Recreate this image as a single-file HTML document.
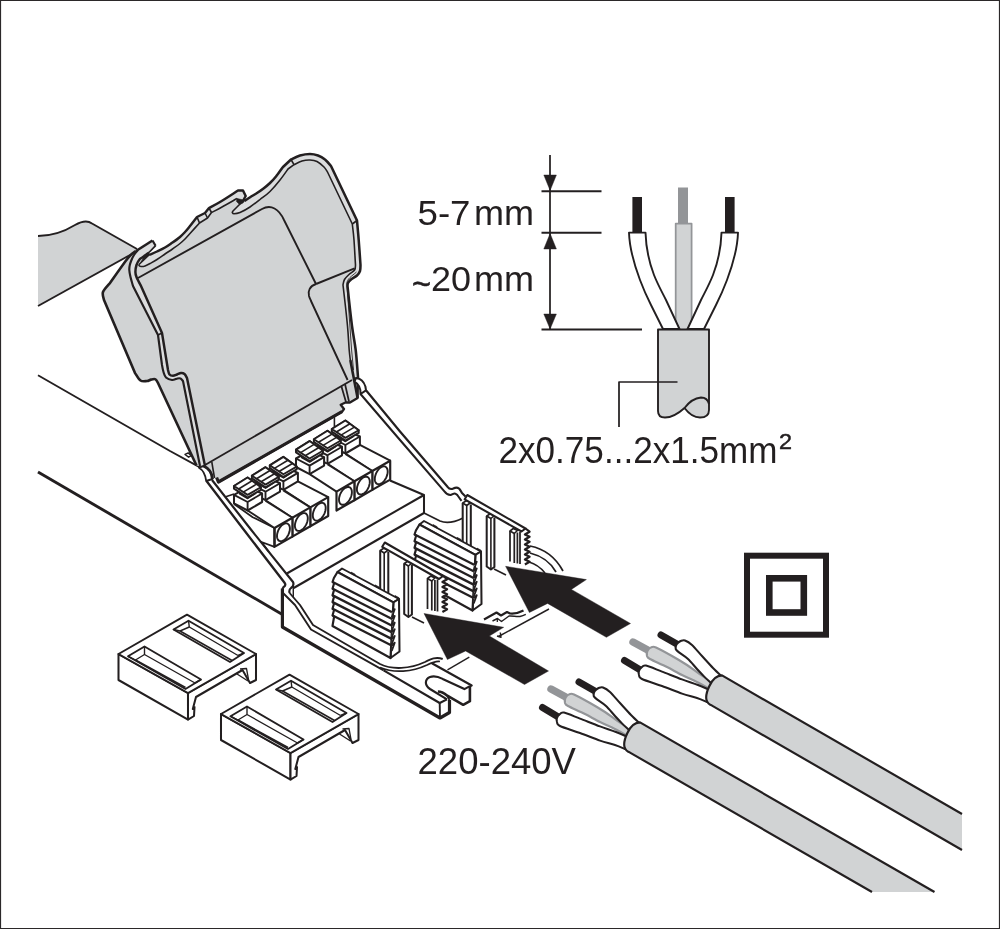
<!DOCTYPE html>
<html lang="en"><head><meta charset="utf-8"><title>Wiring instruction</title>
<style>
html,body{margin:0;padding:0;background:#fff;}
body{width:1000px;height:929px;overflow:hidden;font-family:"Liberation Sans",sans-serif;}
svg{display:block;will-change:transform;}
text{font-family:"Liberation Sans",sans-serif;fill:#231f20;}
</style></head><body>
<svg width="1000" height="929" viewBox="0 0 1000 929" stroke-linejoin="round" stroke-linecap="butt">
<rect x="0" y="0" width="1000" height="929" fill="#fff"/>
<path d="M38 236 C50 236 62 233 75 225 C82 221 88 220.5 92 223.5 L137 249 L131 254.5 L38 306 Z" fill="#d1d3d4" stroke="none" stroke-width="0" />
<path d="M38 236 C50 236 62 233 75 225 C82 221 88 220.5 92 223.5 L137 249" fill="none" stroke="#231f20" stroke-width="1.89" />
<path d="M38 306 L131 254.5" fill="none" stroke="#231f20" stroke-width="1.89" />
<path d="M38 375.3 L170 451 L200 467.3" fill="none" stroke="#231f20" stroke-width="1.89" />
<line x1="38.0" y1="472.0" x2="282.4" y2="614.5" stroke="#231f20" stroke-width="2.9"/>
<path d="M196.5 465.5 L158.0 383.0 L158.0 383.0 C157.6 382.4 156.7 379.9 155.5 379.3 C154.3 378.7 152.4 379.3 151.0 379.6 C149.6 379.9 148.8 380.9 147.0 381.0 C145.2 381.1 142.5 381.8 140.5 380.5 C138.5 379.2 135.9 374.2 135.0 373.0 L135.0 373.0 L104.0 300.0 L104.0 300.0 C103.8 298.7 102.0 294.8 103.0 292.0 C104.0 289.2 108.8 284.5 110.0 283.0 L110.0 283.0 C113.0 278.8 123.7 263.3 128.0 258.0 C132.3 252.7 134.7 252.2 136.0 251.0 L136.0 251.0 L152.5 240.5 L152.5 240.5 L155.6 245.7 L155.6 245.7 L149.0 252.5 L149.0 252.5 L149.0 255.0 L149.0 255.0 C150.3 254.4 154.3 252.8 157.0 251.5 C159.7 250.2 162.4 249.0 165.0 247.5 C167.6 246.0 170.0 244.2 172.5 242.5 C175.0 240.8 177.9 238.8 180.0 237.0 C182.1 235.2 183.3 233.8 185.0 232.0 C186.7 230.2 188.0 228.5 190.0 226.0 C192.0 223.5 195.8 218.5 197.0 217.0 L197.0 217.0 L205.0 213.0 L205.0 213.0 L209.0 208.0 L209.0 208.0 C210.8 207.0 215.2 204.9 220.0 202.0 C224.8 199.1 235.0 192.4 238.0 190.5 L238.0 190.5 L243.0 190.5 L243.0 190.5 L245.7 196.0 L245.7 196.0 L243.5 200.0 L243.5 200.0 L244.5 201.0 L244.5 201.0 C245.5 200.3 248.4 198.3 250.5 197.0 C252.6 195.7 254.8 194.4 257.0 193.0 C259.2 191.6 261.3 190.2 263.5 188.5 C265.7 186.8 267.9 185.0 270.0 183.0 C272.1 181.0 273.8 179.2 276.0 176.5 C278.2 173.8 281.8 168.6 283.0 167.0 L283.0 167.0 L291.0 159.5 L291.0 159.5 C292.5 158.8 296.8 156.4 300.0 155.5 C303.2 154.6 307.0 154.0 310.0 154.0 C313.0 154.0 315.5 154.6 318.0 155.5 C320.5 156.4 322.8 157.8 325.0 159.6 C327.2 161.3 330.0 164.9 331.0 166.0 L331.0 166.0 L357.0 220.5 L357.0 220.5 C357.3 223.8 358.1 232.6 358.7 240.0 C359.3 247.4 360.2 260.8 360.5 265.0 L360.5 265.0 C360.4 266.0 360.6 269.2 360.0 271.0 C359.4 272.8 358.5 274.1 357.0 275.5 C355.5 276.9 352.5 278.2 351.0 279.5 C349.5 280.8 348.6 281.9 348.0 283.0 C347.4 284.1 347.6 285.5 347.5 286.0 L347.5 286.0 C348.2 292.7 350.6 315.3 352.0 326.0 C353.4 336.7 354.7 341.5 355.7 350.0 C356.7 358.5 357.6 372.5 358.0 377.0 L358.0 377.0 L357.6 398.0 L357.6 398.0 L350.0 402.5 L350.0 402.5 L346.0 402.3 L346.0 402.3 L340.7 404.8 L340.7 404.8 L344.0 409.0 L344.0 409.0 L342.0 411.7 L342.0 411.7 L218.5 482.0 L218.5 482.0 L216.6 477.5 L216.6 477.5 L212.4 479.0 L212.4 479.0 C211.8 477.7 210.5 473.2 209.0 471.0 C207.5 468.8 204.5 466.8 203.6 466.0 L203.6 466.0 L199.0 466.0 L199.0 466.0 L196.5 465.5 Z" fill="#d1d3d4" stroke="none" stroke-width="0" />
<path d="M152.5 240.5 L138.0 250.0 L134.0 255.0 L131.5 260.0 L129.8 265.0 L129.3 270.0 L130.5 277.0 L133.0 286.0 L158.0 335.0 L162.0 365.0 L163.5 372.0 L166.0 377.5 L172.0 380.0 L177.5 378.5 L180.5 378.5 L183.0 381.0 L200.0 466.0 L205.0 466.0 L187.0 378.0 L184.5 374.0 L181.0 373.0 L177.0 374.5 L173.0 375.8 L169.5 374.5 L168.0 370.0 L162.0 333.0 L141.0 286.0 L136.5 277.0 L135.4 272.0 L136.5 265.0 L139.5 259.5 L143.0 257.0 L149.0 252.5 L155.6 245.7 Z" fill="#dcddde" stroke="none" stroke-width="0" />
<path d="M149.0 255.0 L157.0 251.5 L165.0 247.5 L172.5 242.5 L180.0 237.0 L185.0 232.0 L190.0 226.0 L197.0 217.0 L205.0 213.0 L209.0 208.0 L220.0 202.0 L238.0 190.5 L243.0 190.5 L245.7 196.0 L243.5 200.0 L237.0 198.5 L222.0 207.0 L211.5 212.5 L207.5 218.0 L199.5 223.0 L190.0 233.5 L185.0 239.0 L180.0 243.5 L172.5 249.0 L165.0 254.0 L157.0 259.5 L150.0 263.5 L145.0 266.0 L141.0 266.5 L139.0 265.5 L139.5 264.0 Z" fill="#dcddde" stroke="none" stroke-width="0" />
<path d="M244.5 201.0 L250.5 197.0 L257.0 193.0 L263.5 188.5 L270.0 183.0 L276.0 176.5 L283.0 167.0 L291.0 159.5 L300.0 155.5 L310.0 154.0 L318.0 155.5 L325.0 159.6 L331.0 166.0 L357.0 220.5 L358.7 240.0 L360.5 265.0 L360.0 271.0 L357.0 275.5 L351.0 279.5 L348.0 283.0 L347.5 286.0 L352.0 326.0 L355.7 350.0 L358.0 377.0 L353.0 380.0 L350.3 360.0 L349.2 350.0 L347.5 326.0 L343.0 285.0 L344.5 279.5 L349.0 274.5 L354.6 270.0 L355.5 265.0 L354.0 240.0 L352.3 224.0 L327.5 172.0 L324.0 167.0 L317.0 161.5 L310.0 160.0 L302.0 161.0 L294.0 164.7 L288.0 169.0 L280.0 180.0 L270.0 191.5 L260.0 199.5 L250.0 207.0 L240.0 212.5 L234.0 213.7 L232.3 212.5 L233.0 211.0 L243.0 201.0 Z" fill="#dcddde" stroke="none" stroke-width="0" />
<path d="M196.5 465.5 L158.0 383.0 L158.0 383.0 C157.6 382.4 156.7 379.9 155.5 379.3 C154.3 378.7 152.4 379.3 151.0 379.6 C149.6 379.9 148.8 380.9 147.0 381.0 C145.2 381.1 142.5 381.8 140.5 380.5 C138.5 379.2 135.9 374.2 135.0 373.0 L135.0 373.0 L104.0 300.0 L104.0 300.0 C103.8 298.7 102.0 294.8 103.0 292.0 C104.0 289.2 108.8 284.5 110.0 283.0 L110.0 283.0 C113.0 278.8 123.7 263.3 128.0 258.0 C132.3 252.7 134.7 252.2 136.0 251.0" fill="none" stroke="#231f20" stroke-width="2.61" />
<path d="M136.0 251.0 L152.5 240.5" fill="none" stroke="#231f20" stroke-width="2.61" />
<path d="M152.5 240.5 L155.6 245.7" fill="none" stroke="#231f20" stroke-width="2.17" />
<path d="M155.6 245.7 L149.0 252.5" fill="none" stroke="#231f20" stroke-width="1.74" />
<path d="M149.0 255.0 C150.3 254.4 154.3 252.8 157.0 251.5 C159.7 250.2 162.4 249.0 165.0 247.5 C167.6 246.0 170.0 244.2 172.5 242.5 C175.0 240.8 177.9 238.8 180.0 237.0 C182.1 235.2 183.3 233.8 185.0 232.0 C186.7 230.2 188.0 228.5 190.0 226.0 C192.0 223.5 195.8 218.5 197.0 217.0 L197.0 217.0 L205.0 213.0 L205.0 213.0 L209.0 208.0 L209.0 208.0 C210.8 207.0 215.2 204.9 220.0 202.0 C224.8 199.1 235.0 192.4 238.0 190.5 L238.0 190.5 L243.0 190.5 L243.0 190.5 L245.7 196.0 L245.7 196.0 L243.5 200.0 L243.5 200.0 L244.5 201.0" fill="none" stroke="#231f20" stroke-width="2.46" />
<path d="M244.5 201.0 C245.5 200.3 248.4 198.3 250.5 197.0 C252.6 195.7 254.8 194.4 257.0 193.0 C259.2 191.6 261.3 190.2 263.5 188.5 C265.7 186.8 267.9 185.0 270.0 183.0 C272.1 181.0 273.8 179.2 276.0 176.5 C278.2 173.8 281.8 168.6 283.0 167.0 L283.0 167.0 L291.0 159.5 L291.0 159.5 C292.5 158.8 296.8 156.4 300.0 155.5 C303.2 154.6 307.0 154.0 310.0 154.0 C313.0 154.0 315.5 154.6 318.0 155.5 C320.5 156.4 322.8 157.8 325.0 159.6 C327.2 161.3 330.0 164.9 331.0 166.0 L331.0 166.0 L357.0 220.5 L357.0 220.5 C357.3 223.8 358.1 232.6 358.7 240.0 C359.3 247.4 360.2 260.8 360.5 265.0 L360.5 265.0 C360.4 266.0 360.6 269.2 360.0 271.0 C359.4 272.8 358.5 274.1 357.0 275.5 C355.5 276.9 352.5 278.2 351.0 279.5 C349.5 280.8 348.6 281.9 348.0 283.0 C347.4 284.1 347.6 285.5 347.5 286.0 L347.5 286.0 C348.2 292.7 350.6 315.3 352.0 326.0 C353.4 336.7 354.7 341.5 355.7 350.0 C356.7 358.5 357.6 372.5 358.0 377.0" fill="none" stroke="#231f20" stroke-width="2.54" />
<path d="M358.0 377.0 L357.6 398.0 L357.6 398.0 L350.0 402.5 L350.0 402.5 L346.0 402.3 L346.0 402.3 L340.7 404.8 L340.7 404.8 L344.0 409.0 L344.0 409.0 L342.0 411.7 L342.0 411.7 L218.5 482.0" fill="none" stroke="#231f20" stroke-width="2.32" />
<path d="M149.0 252.5 L143.5 257.5 L141.0 262.0 L149.0 255.0 Z" fill="#231f20" stroke="#231f20" stroke-width="0.58" />
<path d="M237.0 198.5 L243.5 200.0 L244.5 201.0 L243.0 203.0 L239.5 204.5 L236.5 201.5 Z" fill="#231f20" stroke="#231f20" stroke-width="0.58" />
<path d="M138.0 250.0 C137.3 250.8 135.1 253.3 134.0 255.0 C132.9 256.7 132.2 258.3 131.5 260.0 C130.8 261.7 130.2 263.3 129.8 265.0 C129.4 266.7 129.2 268.0 129.3 270.0 C129.4 272.0 129.9 274.3 130.5 277.0 C131.1 279.7 132.6 284.5 133.0 286.0 L133.0 286.0 L158.0 335.0 L158.0 335.0 L162.0 365.0 L162.0 365.0 C162.2 366.2 162.8 369.9 163.5 372.0 C164.2 374.1 164.6 376.2 166.0 377.5 C167.4 378.8 170.1 379.8 172.0 380.0 C173.9 380.2 176.1 378.8 177.5 378.5 C178.9 378.2 179.6 378.1 180.5 378.5 C181.4 378.9 182.6 380.6 183.0 381.0 L183.0 381.0 L200.0 466.0" fill="none" stroke="#231f20" stroke-width="2.17" />
<path d="M149.0 252.5 C148.0 253.2 144.6 255.8 143.0 257.0 C141.4 258.2 140.6 258.2 139.5 259.5 C138.4 260.8 137.2 262.9 136.5 265.0 C135.8 267.1 135.4 270.0 135.4 272.0 C135.4 274.0 135.6 274.7 136.5 277.0 C137.4 279.3 140.2 284.5 141.0 286.0 L141.0 286.0 L162.0 333.0 L162.0 333.0 L168.0 370.0 L168.0 370.0 C168.2 370.8 168.7 373.5 169.5 374.5 C170.3 375.5 171.8 375.8 173.0 375.8 C174.2 375.8 175.7 375.0 177.0 374.5 C178.3 374.0 179.8 373.1 181.0 373.0 C182.2 372.9 183.5 373.2 184.5 374.0 C185.5 374.8 186.6 377.3 187.0 378.0 L187.0 378.0 L205.0 466.0" fill="none" stroke="#231f20" stroke-width="2.46" />
<line x1="158.0" y1="335.0" x2="162.0" y2="333.0" stroke="#231f20" stroke-width="1.74"/>
<path d="M149.0 255.0 L139.5 264.0 L139.5 264.0 C139.4 264.2 138.8 265.1 139.0 265.5 C139.2 265.9 140.0 266.4 141.0 266.5 C142.0 266.6 143.5 266.5 145.0 266.0 C146.5 265.5 148.0 264.6 150.0 263.5 C152.0 262.4 154.5 261.1 157.0 259.5 C159.5 257.9 162.4 255.8 165.0 254.0 C167.6 252.2 170.0 250.8 172.5 249.0 C175.0 247.2 177.9 245.2 180.0 243.5 C182.1 241.8 183.3 240.7 185.0 239.0 C186.7 237.3 187.6 236.2 190.0 233.5 C192.4 230.8 197.9 224.8 199.5 223.0 L199.5 223.0 L207.5 218.0 L207.5 218.0 L211.5 212.5 L211.5 212.5 C213.2 211.6 217.8 209.3 222.0 207.0 C226.2 204.7 234.5 199.9 237.0 198.5" fill="none" stroke="#231f20" stroke-width="1.59" />
<line x1="197.0" y1="217.0" x2="199.5" y2="223.0" stroke="#231f20" stroke-width="1.59"/>
<line x1="205.0" y1="213.0" x2="207.5" y2="218.0" stroke="#231f20" stroke-width="1.59"/>
<line x1="209.0" y1="208.0" x2="211.5" y2="212.5" stroke="#231f20" stroke-width="1.59"/>
<path d="M243.0 201.0 L233.0 211.0 L233.0 211.0 C232.9 211.2 232.1 212.1 232.3 212.5 C232.5 212.9 232.7 213.7 234.0 213.7 C235.3 213.7 237.3 213.6 240.0 212.5 C242.7 211.4 246.7 209.2 250.0 207.0 C253.3 204.8 256.7 202.1 260.0 199.5 C263.3 196.9 266.7 194.8 270.0 191.5 C273.3 188.2 277.0 183.8 280.0 180.0 C283.0 176.2 286.7 170.8 288.0 169.0 L288.0 169.0 L294.0 164.7 L294.0 164.7 C295.3 164.1 299.3 161.8 302.0 161.0 C304.7 160.2 307.5 159.9 310.0 160.0 C312.5 160.1 314.7 160.3 317.0 161.5 C319.3 162.7 322.2 165.2 324.0 167.0 C325.8 168.8 326.9 171.2 327.5 172.0 L327.5 172.0 L352.3 224.0 L352.3 224.0 C352.6 226.7 353.5 233.2 354.0 240.0 C354.5 246.8 355.2 260.8 355.5 265.0 L355.5 265.0 C355.4 265.8 355.7 268.4 354.6 270.0 C353.5 271.6 350.7 272.9 349.0 274.5 C347.3 276.1 345.5 277.8 344.5 279.5 C343.5 281.2 343.2 284.1 343.0 285.0 L343.0 285.0 C343.8 291.8 346.5 315.2 347.5 326.0 C348.5 336.8 348.7 344.3 349.2 350.0 C349.7 355.7 350.1 358.3 350.3 360.0" fill="none" stroke="#231f20" stroke-width="1.59" />
<line x1="291.0" y1="159.5" x2="294.0" y2="164.7" stroke="#231f20" stroke-width="1.59"/>
<line x1="357.0" y1="220.5" x2="352.3" y2="224.0" stroke="#231f20" stroke-width="1.59"/>
<path d="M356.5 272 C352 276 346.5 279 346.9 284 L351.6 350 L353.5 370" fill="none" stroke="#231f20" stroke-width="0.87" />
<path d="M138 278 L262 209 C271 204 279 209 284 220 L316 284" fill="none" stroke="#231f20" stroke-width="1.89" />
<line x1="316.0" y1="284.0" x2="354.6" y2="268.4" stroke="#231f20" stroke-width="1.89"/>
<path d="M316 284 C310 286 307.5 291 309 296 C310 299 310.7 300 311 301 L347.6 380" fill="none" stroke="#231f20" stroke-width="1.89" />
<line x1="205.0" y1="465.0" x2="352.0" y2="380.0" stroke="#231f20" stroke-width="1.89"/>
<path d="M216.6 477.5 L218.4 482 L342 411.7" fill="none" stroke="#231f20" stroke-width="3.19" />
<line x1="211.8" y1="462.0" x2="214.5" y2="478.0" stroke="#231f20" stroke-width="1.59"/>
<path d="M350.3 360 L357.6 398" fill="none" stroke="#231f20" stroke-width="2.61" />
<path d="M358 377.5 L353 380" fill="none" stroke="#231f20" stroke-width="1.74" />
<line x1="345.0" y1="384.0" x2="349.0" y2="401.5" stroke="#231f20" stroke-width="1.74"/>
<line x1="341.3" y1="386.0" x2="346.0" y2="402.0" stroke="#231f20" stroke-width="1.74"/>
<path d="M356 378 C361 378.5 364 382 365.4 386.5 L366 390.3 L360.5 394 C360.8 389 359.5 384.5 354.5 381.5 Z" fill="#fff" stroke="#231f20" stroke-width="2.03" />
<path d="M199 467.7 C203 470 205.5 475 206.2 481 L212.4 479 C212 474 209.5 468.5 203.6 466 Z" fill="#fff" stroke="#231f20" stroke-width="1.89" />
<path d="M203.6 466 C209.5 468.5 212 474 212.4 479" fill="none" stroke="#231f20" stroke-width="2.9" />
<path d="M185.0 454.5 L188.2 452.9 L191.3 455.7 L188.6 457.2 Z" fill="#fff" stroke="#231f20" stroke-width="1.45" />
<path d="M424.0 495.0 L286.8 573.5 L293.7 588.0 L424.0 513.0 Z" fill="#fff" stroke="none" stroke-width="0" />
<path d="M390 480.5 L424 495 L424 513" fill="none" stroke="#231f20" stroke-width="2.03" />
<path d="M424 495 L286.8 573.5" fill="none" stroke="#231f20" stroke-width="2.03" />
<path d="M424 513 L293.7 588" fill="none" stroke="#231f20" stroke-width="2.03" />
<path d="M424 513 L440 521 C447 524 455 522 463 518" fill="none" stroke="#231f20" stroke-width="1.74" />
<path d="M206.5 481 L244 530 L284.4 582.5 C285.5 584 286 585.5 283.6 587 L282.4 589" fill="none" stroke="#231f20" stroke-width="2.32" />
<path d="M212 480 L251.3 530 L293 582 C294 584.5 293.3 586.5 291 588 C289 589.5 289 591 289.6 593" fill="none" stroke="#231f20" stroke-width="2.17" />
<line x1="293.3" y1="586.0" x2="293.3" y2="597.0" stroke="#231f20" stroke-width="1.45"/>
<path d="M366 390.3 L400 431.5 L447.5 486.8 C449.5 489.5 451.5 489.3 453.3 488.5 C455 487.6 457 487 459 488.5 C460.5 490 461 491.5 462 493 L465.5 496.5" fill="none" stroke="#231f20" stroke-width="2.17" />
<path d="M360.5 394 L400 440 L444.4 491.3 C446 493.5 447.5 495 450.4 495 C452 494.8 453.5 493.2 454.8 493.4 C456 493.6 456.5 494 457.3 495 L461.5 500.8" fill="none" stroke="#231f20" stroke-width="2.03" />
<line x1="334.4" y1="417.0" x2="334.4" y2="427.0" stroke="#231f20" stroke-width="1.59"/>
<line x1="225.0" y1="497.0" x2="234.0" y2="494.0" stroke="#231f20" stroke-width="1.59"/>
<path d="M234 504 L252.7 517.2 L274.5 528" fill="none" stroke="#231f20" stroke-width="1.74" />
<path d="M274.5 546.9 L261.5 542 L269 552" fill="none" stroke="#231f20" stroke-width="1.74" />
<path d="M261.5 542 L240 512" fill="none" stroke="#231f20" stroke-width="0" />
<path d="M372.3 471.0 L390.2 460.7 L363.2 443.7 L359.9 444.9 L345.4 453.5 Z" fill="#fff" stroke="none" stroke-width="0" />
<path d="M372.3 471.0 L345.4 453.5 M390.2 460.7 L359.9 444.9" fill="none" stroke="#231f20" stroke-width="1.89" />
<path d="M372.3 471.0 L390.2 460.7 L390.2 479.6 L372.3 489.9 Z" fill="#fff" stroke="#231f20" stroke-width="2.17" />
<path d="M387.7 471.6 L387.6 473.1 L387.3 474.6 L386.8 476.2 L386.2 477.7 L385.4 479.1 L384.5 480.5 L383.5 481.7 L382.4 482.7 L381.2 483.4 L380.1 483.9 L379.0 484.2 L378.0 484.2 L377.1 483.9 L376.3 483.4 L375.7 482.6 L375.2 481.6 L374.9 480.4 L374.8 479.0 L374.9 477.5 L375.2 476.0 L375.7 474.4 L376.3 472.9 L377.1 471.5 L378.0 470.1 L379.0 468.9 L380.1 467.9 L381.2 467.2 L382.4 466.7 L383.5 466.4 L384.5 466.4 L385.4 466.7 L386.2 467.2 L386.8 468.0 L387.3 469.0 L387.6 470.2 Z" fill="#fff" stroke="#231f20" stroke-width="1.89" />
<path d="M331.8 437.9 L345.7 430.1 L359.9 436.5 L359.9 445.0 L345.4 453.5 L331.8 446.4 Z" fill="#fff" stroke="#231f20" stroke-width="2.03" />
<path d="M331.8 437.9 L345.4 445.0 L359.9 436.5 M345.4 445.0 L345.4 453.5" fill="none" stroke="#231f20" stroke-width="1.89" />
<path d="M337.4 433.4 L345.5 437.9 L353.4 432.9 L353.4 436.3 L345.5 441.5 L337.4 436.9 Z" fill="#231f20" stroke="#231f20" stroke-width="1.45" />
<path d="M337.9 435.6 L345.5 439.9 L352.9 435.0" fill="none" stroke="#fff" stroke-width="0.87" />
<path d="M331.8 429.0 L345.4 420.5 L358.7 430.2 L358.7 432.9 L345.4 440.6 L331.8 431.7 Z" fill="#fff" stroke="#231f20" stroke-width="2.03" />
<path d="M331.8 429.0 L345.4 420.5 L358.7 430.2 L345.4 437.9 Z" fill="#fff" stroke="#231f20" stroke-width="1.89" />
<line x1="336.4" y1="432.0" x2="349.9" y2="423.8" stroke="#231f20" stroke-width="1.59"/>
<line x1="341.0" y1="435.1" x2="354.4" y2="427.1" stroke="#231f20" stroke-width="1.59"/>
<path d="M354.4 481.3 L372.3 471.0 L345.3 454.0 L342.0 455.2 L327.5 463.8 Z" fill="#fff" stroke="none" stroke-width="0" />
<path d="M354.4 481.3 L327.5 463.8 M372.3 471.0 L345.3 454.0" fill="none" stroke="#231f20" stroke-width="1.89" />
<path d="M354.4 481.3 L372.3 471.0 L372.3 489.9 L354.4 500.2 Z" fill="#fff" stroke="#231f20" stroke-width="2.17" />
<path d="M369.8 481.9 L369.7 483.4 L369.4 484.9 L368.9 486.5 L368.3 488.0 L367.5 489.4 L366.6 490.8 L365.6 492.0 L364.5 493.0 L363.4 493.7 L362.2 494.2 L361.1 494.5 L360.1 494.5 L359.2 494.2 L358.4 493.7 L357.8 492.9 L357.3 491.9 L357.0 490.7 L356.9 489.3 L357.0 487.8 L357.3 486.3 L357.8 484.7 L358.4 483.2 L359.2 481.8 L360.1 480.4 L361.1 479.2 L362.2 478.2 L363.4 477.5 L364.5 477.0 L365.6 476.7 L366.6 476.7 L367.5 477.0 L368.3 477.5 L368.9 478.3 L369.4 479.3 L369.7 480.5 Z" fill="#fff" stroke="#231f20" stroke-width="1.89" />
<path d="M313.9 448.2 L327.8 440.4 L342.0 446.8 L342.0 455.3 L327.5 463.8 L313.9 456.7 Z" fill="#fff" stroke="#231f20" stroke-width="2.03" />
<path d="M313.9 448.2 L327.5 455.3 L342.0 446.8 M327.5 455.3 L327.5 463.8" fill="none" stroke="#231f20" stroke-width="1.89" />
<path d="M319.5 443.7 L327.6 448.2 L335.5 443.2 L335.5 446.6 L327.6 451.8 L319.5 447.2 Z" fill="#231f20" stroke="#231f20" stroke-width="1.45" />
<path d="M320.0 445.9 L327.6 450.2 L335.0 445.3" fill="none" stroke="#fff" stroke-width="0.87" />
<path d="M313.9 439.3 L327.5 430.8 L340.8 440.5 L340.8 443.2 L327.5 450.9 L313.9 442.0 Z" fill="#fff" stroke="#231f20" stroke-width="2.03" />
<path d="M313.9 439.3 L327.5 430.8 L340.8 440.5 L327.5 448.2 Z" fill="#fff" stroke="#231f20" stroke-width="1.89" />
<line x1="318.5" y1="442.3" x2="332.0" y2="434.1" stroke="#231f20" stroke-width="1.59"/>
<line x1="323.1" y1="445.4" x2="336.5" y2="437.4" stroke="#231f20" stroke-width="1.59"/>
<path d="M336.5 491.6 L354.4 481.3 L327.4 464.3 L324.1 465.5 L309.6 474.1 Z" fill="#fff" stroke="none" stroke-width="0" />
<path d="M336.5 491.6 L309.6 474.1 M354.4 481.3 L327.4 464.3" fill="none" stroke="#231f20" stroke-width="1.89" />
<path d="M336.5 491.6 L354.4 481.3 L354.4 500.2 L336.5 510.5 Z" fill="#fff" stroke="#231f20" stroke-width="2.17" />
<path d="M351.9 492.2 L351.8 493.7 L351.5 495.2 L351.0 496.8 L350.4 498.3 L349.6 499.7 L348.7 501.1 L347.7 502.3 L346.6 503.3 L345.5 504.0 L344.3 504.5 L343.2 504.8 L342.2 504.8 L341.3 504.5 L340.5 504.0 L339.9 503.2 L339.4 502.2 L339.1 501.0 L339.0 499.6 L339.1 498.1 L339.4 496.6 L339.9 495.0 L340.5 493.5 L341.3 492.1 L342.2 490.7 L343.2 489.5 L344.3 488.5 L345.5 487.8 L346.6 487.3 L347.7 487.0 L348.7 487.0 L349.6 487.3 L350.4 487.8 L351.0 488.6 L351.5 489.6 L351.8 490.8 Z" fill="#fff" stroke="#231f20" stroke-width="1.89" />
<path d="M296.0 458.5 L309.9 450.7 L324.1 457.1 L324.1 465.6 L309.6 474.1 L296.0 467.0 Z" fill="#fff" stroke="#231f20" stroke-width="2.03" />
<path d="M296.0 458.5 L309.6 465.6 L324.1 457.1 M309.6 465.6 L309.6 474.1" fill="none" stroke="#231f20" stroke-width="1.89" />
<path d="M301.6 454.0 L309.7 458.5 L317.6 453.5 L317.6 456.9 L309.7 462.1 L301.6 457.5 Z" fill="#231f20" stroke="#231f20" stroke-width="1.45" />
<path d="M302.1 456.2 L309.7 460.5 L317.1 455.6" fill="none" stroke="#fff" stroke-width="0.87" />
<path d="M296.0 449.6 L309.6 441.1 L322.9 450.8 L322.9 453.5 L309.6 461.2 L296.0 452.3 Z" fill="#fff" stroke="#231f20" stroke-width="2.03" />
<path d="M296.0 449.6 L309.6 441.1 L322.9 450.8 L309.6 458.5 Z" fill="#fff" stroke="#231f20" stroke-width="1.89" />
<line x1="300.6" y1="452.6" x2="314.1" y2="444.4" stroke="#231f20" stroke-width="1.59"/>
<line x1="305.2" y1="455.7" x2="318.6" y2="447.7" stroke="#231f20" stroke-width="1.59"/>
<path d="M310.3 507.4 L328.2 497.1 L301.2 480.1 L297.9 481.3 L283.4 489.9 Z" fill="#fff" stroke="none" stroke-width="0" />
<path d="M310.3 507.4 L283.4 489.9 M328.2 497.1 L297.9 481.3" fill="none" stroke="#231f20" stroke-width="1.89" />
<path d="M310.3 507.4 L328.2 497.1 L328.2 516.0 L310.3 526.3 Z" fill="#fff" stroke="#231f20" stroke-width="2.17" />
<path d="M325.7 508.0 L325.6 509.5 L325.3 511.0 L324.8 512.6 L324.2 514.1 L323.4 515.5 L322.5 516.9 L321.5 518.1 L320.4 519.1 L319.2 519.8 L318.1 520.3 L317.0 520.6 L316.0 520.6 L315.1 520.3 L314.3 519.8 L313.7 519.0 L313.2 518.0 L312.9 516.8 L312.8 515.4 L312.9 513.9 L313.2 512.4 L313.7 510.8 L314.3 509.3 L315.1 507.9 L316.0 506.5 L317.0 505.3 L318.1 504.3 L319.2 503.6 L320.4 503.1 L321.5 502.8 L322.5 502.8 L323.4 503.1 L324.2 503.6 L324.8 504.4 L325.3 505.4 L325.6 506.6 Z" fill="#fff" stroke="#231f20" stroke-width="1.89" />
<path d="M269.8 474.3 L283.7 466.5 L297.9 472.9 L297.9 481.4 L283.4 489.9 L269.8 482.8 Z" fill="#fff" stroke="#231f20" stroke-width="2.03" />
<path d="M269.8 474.3 L283.4 481.4 L297.9 472.9 M283.4 481.4 L283.4 489.9" fill="none" stroke="#231f20" stroke-width="1.89" />
<path d="M275.4 469.8 L283.5 474.3 L291.4 469.3 L291.4 472.7 L283.5 477.9 L275.4 473.3 Z" fill="#231f20" stroke="#231f20" stroke-width="1.45" />
<path d="M275.9 472.0 L283.5 476.3 L290.9 471.4" fill="none" stroke="#fff" stroke-width="0.87" />
<path d="M269.8 465.4 L283.4 456.9 L296.7 466.6 L296.7 469.3 L283.4 477.0 L269.8 468.1 Z" fill="#fff" stroke="#231f20" stroke-width="2.03" />
<path d="M269.8 465.4 L283.4 456.9 L296.7 466.6 L283.4 474.3 Z" fill="#fff" stroke="#231f20" stroke-width="1.89" />
<line x1="274.4" y1="468.4" x2="287.9" y2="460.2" stroke="#231f20" stroke-width="1.59"/>
<line x1="279.0" y1="471.5" x2="292.4" y2="463.5" stroke="#231f20" stroke-width="1.59"/>
<path d="M292.4 517.7 L310.3 507.4 L283.3 490.4 L280.0 491.6 L265.5 500.2 Z" fill="#fff" stroke="none" stroke-width="0" />
<path d="M292.4 517.7 L265.5 500.2 M310.3 507.4 L283.3 490.4" fill="none" stroke="#231f20" stroke-width="1.89" />
<path d="M292.4 517.7 L310.3 507.4 L310.3 526.3 L292.4 536.6 Z" fill="#fff" stroke="#231f20" stroke-width="2.17" />
<path d="M307.8 518.3 L307.7 519.8 L307.4 521.3 L306.9 522.9 L306.3 524.4 L305.5 525.8 L304.6 527.2 L303.6 528.4 L302.5 529.4 L301.4 530.1 L300.2 530.6 L299.1 530.9 L298.1 530.9 L297.2 530.6 L296.4 530.1 L295.8 529.3 L295.3 528.3 L295.0 527.1 L294.9 525.7 L295.0 524.2 L295.3 522.7 L295.8 521.1 L296.4 519.6 L297.2 518.2 L298.1 516.8 L299.1 515.6 L300.2 514.6 L301.4 513.9 L302.5 513.4 L303.6 513.1 L304.6 513.1 L305.5 513.4 L306.3 513.9 L306.9 514.7 L307.4 515.7 L307.7 516.9 Z" fill="#fff" stroke="#231f20" stroke-width="1.89" />
<path d="M251.9 484.6 L265.8 476.8 L280.0 483.2 L280.0 491.7 L265.5 500.2 L251.9 493.1 Z" fill="#fff" stroke="#231f20" stroke-width="2.03" />
<path d="M251.9 484.6 L265.5 491.7 L280.0 483.2 M265.5 491.7 L265.5 500.2" fill="none" stroke="#231f20" stroke-width="1.89" />
<path d="M257.5 480.1 L265.6 484.6 L273.5 479.6 L273.5 483.0 L265.6 488.2 L257.5 483.6 Z" fill="#231f20" stroke="#231f20" stroke-width="1.45" />
<path d="M258.0 482.3 L265.6 486.6 L273.0 481.7" fill="none" stroke="#fff" stroke-width="0.87" />
<path d="M251.9 475.7 L265.5 467.2 L278.8 476.9 L278.8 479.6 L265.5 487.3 L251.9 478.4 Z" fill="#fff" stroke="#231f20" stroke-width="2.03" />
<path d="M251.9 475.7 L265.5 467.2 L278.8 476.9 L265.5 484.6 Z" fill="#fff" stroke="#231f20" stroke-width="1.89" />
<line x1="256.5" y1="478.7" x2="270.0" y2="470.5" stroke="#231f20" stroke-width="1.59"/>
<line x1="261.1" y1="481.8" x2="274.5" y2="473.8" stroke="#231f20" stroke-width="1.59"/>
<path d="M274.5 528.0 L292.4 517.7 L265.4 500.7 L262.1 501.9 L247.6 510.5 Z" fill="#fff" stroke="none" stroke-width="0" />
<path d="M274.5 528.0 L247.6 510.5 M292.4 517.7 L265.4 500.7" fill="none" stroke="#231f20" stroke-width="1.89" />
<path d="M274.5 528.0 L292.4 517.7 L292.4 536.6 L274.5 546.9 Z" fill="#fff" stroke="#231f20" stroke-width="2.17" />
<path d="M289.9 528.6 L289.8 530.1 L289.5 531.6 L289.0 533.2 L288.4 534.7 L287.6 536.1 L286.7 537.5 L285.7 538.7 L284.6 539.7 L283.5 540.4 L282.3 540.9 L281.2 541.2 L280.2 541.2 L279.3 540.9 L278.5 540.4 L277.9 539.6 L277.4 538.6 L277.1 537.4 L277.0 536.0 L277.1 534.5 L277.4 533.0 L277.9 531.4 L278.5 529.9 L279.3 528.5 L280.2 527.1 L281.2 525.9 L282.3 524.9 L283.5 524.2 L284.6 523.7 L285.7 523.4 L286.7 523.4 L287.6 523.7 L288.4 524.2 L289.0 525.0 L289.5 526.0 L289.8 527.2 Z" fill="#fff" stroke="#231f20" stroke-width="1.89" />
<path d="M234.0 494.9 L247.9 487.1 L262.1 493.5 L262.1 502.0 L247.6 510.5 L234.0 503.4 Z" fill="#fff" stroke="#231f20" stroke-width="2.03" />
<path d="M234.0 494.9 L247.6 502.0 L262.1 493.5 M247.6 502.0 L247.6 510.5" fill="none" stroke="#231f20" stroke-width="1.89" />
<path d="M239.6 490.4 L247.7 494.9 L255.6 489.9 L255.6 493.3 L247.7 498.5 L239.6 493.9 Z" fill="#231f20" stroke="#231f20" stroke-width="1.45" />
<path d="M240.1 492.6 L247.7 496.9 L255.1 492.0" fill="none" stroke="#fff" stroke-width="0.87" />
<path d="M234.0 486.0 L247.6 477.5 L260.9 487.2 L260.9 489.9 L247.6 497.6 L234.0 488.7 Z" fill="#fff" stroke="#231f20" stroke-width="2.03" />
<path d="M234.0 486.0 L247.6 477.5 L260.9 487.2 L247.6 494.9 Z" fill="#fff" stroke="#231f20" stroke-width="1.89" />
<line x1="238.6" y1="489.0" x2="252.1" y2="480.8" stroke="#231f20" stroke-width="1.59"/>
<line x1="243.2" y1="492.1" x2="256.6" y2="484.1" stroke="#231f20" stroke-width="1.59"/>
<path d="M274.5 546.9 L274.5 528" fill="none" stroke="#231f20" stroke-width="2.17" />
<path d="M282.4 588.5 L282.4 627 L440 718 L449.5 712.5 L449.5 700" fill="none" stroke="#231f20" stroke-width="3.19" />
<path d="M289.6 593 L300 605 L313 625 L380 664 C392 670 410 669 425 662 C431 659 436 656.5 442.7 659" fill="none" stroke="#231f20" stroke-width="1.89" />
<path d="M283 593 L295 605 L311 629.5 L383.6 670.4 " fill="none" stroke="#231f20" stroke-width="1.89" />
<path d="M380 667.5 C394 673.5 412 672 427 665 C432 662.5 436 660.5 440 661.5" fill="none" stroke="#231f20" stroke-width="1.74" />
<path d="M383.6 670.4 L439.7 703 L447 699.4" fill="none" stroke="#231f20" stroke-width="2.17" />
<path d="M439.7 703 L440 718" fill="none" stroke="#231f20" stroke-width="1.89" />
<path d="M447 699.4 L430 689 C424 685 425 679 430 677 C434 675.5 439 677 442.7 678.9 L464.4 689.1 L469.9 686.1" fill="none" stroke="#231f20" stroke-width="2.17" />
<path d="M437.9 691.5 C441 691.5 444 693 447.3 695.7 L463.2 704.8 L469.9 701.2 L469.9 686.1" fill="none" stroke="#231f20" stroke-width="2.61" />
<path d="M447.3 695.7 L449.5 700" fill="none" stroke="#231f20" stroke-width="1.89" />
<path d="M431.9 663.2 L471.7 685.5 L469.9 686.1" fill="none" stroke="#231f20" stroke-width="2.17" />
<path d="M464.4 689.1 L463.5 704.5" fill="none" stroke="#231f20" stroke-width="0" />
<line x1="447.5" y1="669.8" x2="469.3" y2="657.1" stroke="#231f20" stroke-width="1.45"/>
<path d="M464.7 499.3 L521.5 531.5 L525.5 528.5 L529.6 531.7 L524.9 534.5 L529.6 536.7 L524.9 539.5 L529.6 541.7 L524.9 544.5 L529.6 546.7 L524.9 549.5 L529.6 551.7 L524.9 554.5 L529.6 556.7 L524.9 559.5 L529.6 561.7 L524.9 564.5 L520.0 564.0 L494.4 567.0 L470.8 547.0 L462.7 545.0 Z" fill="#fff" stroke="none" stroke-width="0" />
<path d="M462.7 503.0 L462.7 545.5 L466.7 547.0 L470.8 546.0 L470.8 504.5 Z" fill="#fff" stroke="none" stroke-width="0" />
<path d="M462.7 503.0 L462.7 545.5 L466.7 547.0 L470.8 546.0 L470.8 504.5" fill="none" stroke="#231f20" stroke-width="2.03" />
<line x1="466.7" y1="505.5" x2="466.7" y2="547.0" stroke="#231f20" stroke-width="1.59"/>
<path d="M462.7 503.0 L466.3 500.8 L470.8 502.5 L466.7 505.5 Z" fill="#fff" stroke="#231f20" stroke-width="1.59" />
<path d="M486.7 516.0 L486.7 566.5 L490.9 569.5 L494.4 567.0 L494.4 517.5 Z" fill="#fff" stroke="none" stroke-width="0" />
<path d="M486.7 516.0 L486.7 566.5 L490.9 569.5 L494.4 567.0 L494.4 517.5" fill="none" stroke="#231f20" stroke-width="2.03" />
<line x1="490.9" y1="518.5" x2="490.9" y2="569.5" stroke="#231f20" stroke-width="1.59"/>
<path d="M486.7 516.0 L490.3 513.8 L494.4 515.5 L490.9 518.5 Z" fill="#fff" stroke="#231f20" stroke-width="1.59" />
<path d="M510.0 530.0 L520.0 532.0 L520.0 564.0 L510.0 562.0 Z" fill="#fff" stroke="none" stroke-width="0" />
<line x1="510.0" y1="531.0" x2="510.0" y2="561.5" stroke="#231f20" stroke-width="1.74"/>
<line x1="514.3" y1="533.5" x2="514.3" y2="563.0" stroke="#231f20" stroke-width="1.74"/>
<line x1="517.4" y1="532.5" x2="517.4" y2="563.5" stroke="#231f20" stroke-width="1.74"/>
<line x1="520.0" y1="532.0" x2="520.0" y2="564.0" stroke="#231f20" stroke-width="1.74"/>
<path d="M510.0 531.0 L513.3 528.5 L517.4 530.5 L514.3 533.5 Z" fill="#fff" stroke="#231f20" stroke-width="1.59" />
<path d="M467.3 495.0 L525.5 528.5 L521.5 531.5 L464.7 499.3 Z" fill="#fff" stroke="#231f20" stroke-width="2.03" />
<path d="M525.5 528.5 L529.6 531.7 L524.9 534.5 L529.6 536.7 L524.9 539.5 L529.6 541.7 L524.9 544.5 L529.6 546.7 L524.9 549.5 L529.6 551.7 L524.9 554.5 L529.6 556.7 L524.9 559.5 L529.6 561.7 L524.9 564.5" fill="none" stroke="#231f20" stroke-width="2.17" />
<path d="M530 546 C545 549 556 558 563 571" fill="none" stroke="#231f20" stroke-width="1.74" />
<path d="M530 553 C542 556 551 563 556 572" fill="none" stroke="#231f20" stroke-width="1.74" />
<path d="M529 562 C536 564 541 568 545 573" fill="none" stroke="#231f20" stroke-width="1.45" />
<path d="M419.5 524.5 L424.0 521.0 L481.0 551.5 L475.4 554.9 Z" fill="#fff" stroke="#231f20" stroke-width="1.89" />
<path d="M475.4 554.9 L481.0 551.5 L481.5 604.0 L472.5 610.5 Z" fill="#fff" stroke="#231f20" stroke-width="2.03" />
<path d="M419.5 524.5 L415.9 530.5 L414.5 534.5 L416.1 535.7 L414.5 541.2 L416.1 542.4 L414.5 547.9 L416.1 549.1 L414.5 554.6 L416.1 555.8 L414.5 561.3 L416.1 562.5 L414.5 568.0 L416.1 569.2 L414.5 578.5 L472.5 610.5 L475.4 554.9 Z" fill="#fff" stroke="#231f20" stroke-width="2.17" />
<line x1="414.7" y1="534.5" x2="474.1" y2="564.8" stroke="#231f20" stroke-width="2.32"/>
<path d="M474.1 564.8 L476.7 561.7 L473.7 570.0" fill="#fff" stroke="#231f20" stroke-width="1.89" />
<line x1="414.7" y1="541.2" x2="474.1" y2="571.5" stroke="#231f20" stroke-width="2.32"/>
<path d="M474.1 571.5 L476.7 568.4 L473.7 576.7" fill="#fff" stroke="#231f20" stroke-width="1.89" />
<line x1="414.7" y1="547.9" x2="474.1" y2="578.2" stroke="#231f20" stroke-width="2.32"/>
<path d="M474.1 578.2 L476.7 575.1 L473.7 583.4" fill="#fff" stroke="#231f20" stroke-width="1.89" />
<line x1="414.7" y1="554.6" x2="474.1" y2="584.9" stroke="#231f20" stroke-width="2.32"/>
<path d="M474.1 584.9 L476.7 581.8 L473.7 590.1" fill="#fff" stroke="#231f20" stroke-width="1.89" />
<line x1="414.7" y1="561.3" x2="474.1" y2="591.6" stroke="#231f20" stroke-width="2.32"/>
<path d="M474.1 591.6 L476.7 588.5 L473.7 596.8" fill="#fff" stroke="#231f20" stroke-width="1.89" />
<line x1="414.7" y1="568.0" x2="474.1" y2="598.3" stroke="#231f20" stroke-width="2.32"/>
<path d="M474.1 598.3 L476.7 595.2 L473.7 603.5" fill="#fff" stroke="#231f20" stroke-width="1.89" />
<path d="M433.1 524.6 L437.1 526.7 L437.1 528.1 L433.1 525.9 Z" fill="#231f20" stroke="#231f20" stroke-width="0.72" />
<path d="M457.1 537.4 L461.1 539.5 L461.1 540.9 L457.1 538.7 Z" fill="#231f20" stroke="#231f20" stroke-width="0.72" />
<path d="M477.0 548.1 L481.0 550.2 L481.0 551.6 L477.0 549.4 Z" fill="#231f20" stroke="#231f20" stroke-width="0.72" />
<path d="M382.2 546.8 L439.0 579.0 L443.0 576.0 L447.1 579.2 L442.4 582.0 L447.1 584.2 L442.4 587.0 L447.1 589.2 L442.4 592.0 L447.1 594.2 L442.4 597.0 L447.1 599.2 L442.4 602.0 L447.1 604.2 L442.4 607.0 L447.1 609.2 L442.4 612.0 L437.5 611.5 L411.9 614.5 L388.3 594.5 L380.2 592.5 Z" fill="#fff" stroke="none" stroke-width="0" />
<path d="M380.2 550.5 L380.2 593.0 L384.2 594.5 L388.3 593.5 L388.3 552.0 Z" fill="#fff" stroke="none" stroke-width="0" />
<path d="M380.2 550.5 L380.2 593.0 L384.2 594.5 L388.3 593.5 L388.3 552.0" fill="none" stroke="#231f20" stroke-width="2.03" />
<line x1="384.2" y1="553.0" x2="384.2" y2="594.5" stroke="#231f20" stroke-width="1.59"/>
<path d="M380.2 550.5 L383.8 548.3 L388.3 550.0 L384.2 553.0 Z" fill="#fff" stroke="#231f20" stroke-width="1.59" />
<path d="M404.2 563.5 L404.2 614.0 L408.4 617.0 L411.9 614.5 L411.9 565.0 Z" fill="#fff" stroke="none" stroke-width="0" />
<path d="M404.2 563.5 L404.2 614.0 L408.4 617.0 L411.9 614.5 L411.9 565.0" fill="none" stroke="#231f20" stroke-width="2.03" />
<line x1="408.4" y1="566.0" x2="408.4" y2="617.0" stroke="#231f20" stroke-width="1.59"/>
<path d="M404.2 563.5 L407.8 561.3 L411.9 563.0 L408.4 566.0 Z" fill="#fff" stroke="#231f20" stroke-width="1.59" />
<path d="M427.5 577.5 L437.5 579.5 L437.5 611.5 L427.5 609.5 Z" fill="#fff" stroke="none" stroke-width="0" />
<line x1="427.5" y1="578.5" x2="427.5" y2="609.0" stroke="#231f20" stroke-width="1.74"/>
<line x1="431.8" y1="581.0" x2="431.8" y2="610.5" stroke="#231f20" stroke-width="1.74"/>
<line x1="434.9" y1="580.0" x2="434.9" y2="611.0" stroke="#231f20" stroke-width="1.74"/>
<line x1="437.5" y1="579.5" x2="437.5" y2="611.5" stroke="#231f20" stroke-width="1.74"/>
<path d="M427.5 578.5 L430.8 576.0 L434.9 578.0 L431.8 581.0 Z" fill="#fff" stroke="#231f20" stroke-width="1.59" />
<path d="M384.8 542.5 L443.0 576.0 L439.0 579.0 L382.2 546.8 Z" fill="#fff" stroke="#231f20" stroke-width="2.03" />
<path d="M443.0 576.0 L447.1 579.2 L442.4 582.0 L447.1 584.2 L442.4 587.0 L447.1 589.2 L442.4 592.0 L447.1 594.2 L442.4 597.0 L447.1 599.2 L442.4 602.0 L447.1 604.2 L442.4 607.0 L447.1 609.2 L442.4 612.0" fill="none" stroke="#231f20" stroke-width="2.17" />
<path d="M337.5 572.0 L342.0 568.5 L399.0 599.0 L393.4 602.4 Z" fill="#fff" stroke="#231f20" stroke-width="1.89" />
<path d="M393.4 602.4 L399.0 599.0 L399.5 651.5 L390.5 658.0 Z" fill="#fff" stroke="#231f20" stroke-width="2.03" />
<path d="M337.5 572.0 L333.9 578.0 L332.5 582.0 L334.1 583.2 L332.5 588.7 L334.1 589.9 L332.5 595.4 L334.1 596.6 L332.5 602.1 L334.1 603.3 L332.5 608.8 L334.1 610.0 L332.5 615.5 L334.1 616.7 L332.5 626.0 L390.5 658.0 L393.4 602.4 Z" fill="#fff" stroke="#231f20" stroke-width="2.17" />
<line x1="332.7" y1="582.0" x2="392.1" y2="612.3" stroke="#231f20" stroke-width="2.32"/>
<path d="M392.1 612.3 L394.7 609.2 L391.7 617.5" fill="#fff" stroke="#231f20" stroke-width="1.89" />
<line x1="332.7" y1="588.7" x2="392.1" y2="619.0" stroke="#231f20" stroke-width="2.32"/>
<path d="M392.1 619.0 L394.7 615.9 L391.7 624.2" fill="#fff" stroke="#231f20" stroke-width="1.89" />
<line x1="332.7" y1="595.4" x2="392.1" y2="625.7" stroke="#231f20" stroke-width="2.32"/>
<path d="M392.1 625.7 L394.7 622.6 L391.7 630.9" fill="#fff" stroke="#231f20" stroke-width="1.89" />
<line x1="332.7" y1="602.1" x2="392.1" y2="632.4" stroke="#231f20" stroke-width="2.32"/>
<path d="M392.1 632.4 L394.7 629.3 L391.7 637.6" fill="#fff" stroke="#231f20" stroke-width="1.89" />
<line x1="332.7" y1="608.8" x2="392.1" y2="639.1" stroke="#231f20" stroke-width="2.32"/>
<path d="M392.1 639.1 L394.7 636.0 L391.7 644.3" fill="#fff" stroke="#231f20" stroke-width="1.89" />
<line x1="332.7" y1="615.5" x2="392.1" y2="645.8" stroke="#231f20" stroke-width="2.32"/>
<path d="M392.1 645.8 L394.7 642.7 L391.7 651.0" fill="#fff" stroke="#231f20" stroke-width="1.89" />
<path d="M351.1 572.1 L355.1 574.2 L355.1 575.6 L351.1 573.4 Z" fill="#231f20" stroke="#231f20" stroke-width="0.72" />
<path d="M375.1 584.9 L379.1 587.0 L379.1 588.4 L375.1 586.2 Z" fill="#231f20" stroke="#231f20" stroke-width="0.72" />
<path d="M395.0 595.6 L399.0 597.7 L399.0 599.1 L395.0 596.9 Z" fill="#231f20" stroke="#231f20" stroke-width="0.72" />
<line x1="412.0" y1="617.0" x2="424.0" y2="623.0" stroke="#231f20" stroke-width="1.59"/>
<line x1="494.0" y1="569.0" x2="506.0" y2="575.0" stroke="#231f20" stroke-width="1.59"/>
<path d="M484 619.5 L496.5 612.5 L501 615.5 L507 612 L510 613.5 C514 614 519 612.8 523.5 610.5" fill="none" stroke="#231f20" stroke-width="2.17" />
<path d="M492.5 621 L497.5 618.5 L501.5 621.5 L509 616 C513 615.6 516 617 520 616.5 C522 616 524 615.2 525.8 614.3" fill="none" stroke="#231f20" stroke-width="1.45" />
<line x1="497.3" y1="619.0" x2="497.3" y2="622.0" stroke="#231f20" stroke-width="1.3"/>
<line x1="549.0" y1="609.0" x2="498.5" y2="636.5" stroke="#231f20" stroke-width="1.45"/>
<path d="M500.3 632.5 L501 637.3 L497 636" fill="none" stroke="#231f20" stroke-width="1.45" />
<path d="M118.5 654.0 L188.0 693.0 L188.0 719.6 L118.5 680.0 Z" fill="#fff" stroke="#231f20" stroke-width="2.03" />
<path d="M188.0 693.0 L188.0 719.6 L194.0 716.0 L194.5 707.0 L192.8 709.0 L196.0 697.0 L242.5 670.0 L250.0 683.0 L256.0 680.0 L256.0 654.0 Z" fill="#fff" stroke="#231f20" stroke-width="2.03" />
<path d="M237.0 674.0 L248.0 681.0" fill="none" stroke="#231f20" stroke-width="1.38" />
<path d="M240.0 669.0 L246.5 668.5 L248.5 679.5" fill="none" stroke="#231f20" stroke-width="1.38" />
<path d="M118.5 654.0 L187.0 614.6 L256.0 654.0 L188.0 693.0 Z" fill="#fff" stroke="#231f20" stroke-width="1.89" />
<path d="M173.5 629.5 L188.5 620.7 L244.0 653.0 L230.0 662.0 Z" fill="#fff" stroke="#231f20" stroke-width="1.89" />
<path d="M188.5 620.7 L189.3 627.0 L238.0 655.5" fill="none" stroke="#231f20" stroke-width="1.38" />
<path d="M173.5 629.5 L180.0 631.0 L189.3 627.0" fill="none" stroke="#231f20" stroke-width="1.38" />
<path d="M180.0 631.0 L232.0 660.5" fill="none" stroke="#231f20" stroke-width="1.59" />
<path d="M238.0 655.5 L244.0 653.0" fill="none" stroke="#231f20" stroke-width="1.45" />
<path d="M128.0 656.3 L144.5 646.5 L201.0 679.5 L185.5 689.0 Z" fill="#fff" stroke="#231f20" stroke-width="1.89" />
<path d="M144.5 646.5 L144.5 654.5 L195.0 683.0" fill="none" stroke="#231f20" stroke-width="1.38" />
<path d="M128.0 656.3 L135.5 660.0 L144.5 654.5" fill="none" stroke="#231f20" stroke-width="1.38" />
<path d="M135.5 660.0 L185.5 687.5" fill="none" stroke="#231f20" stroke-width="1.59" />
<path d="M195.0 683.0 L201.0 679.5" fill="none" stroke="#231f20" stroke-width="1.45" />
<path d="M221.0 714.0 L290.5 753.0 L290.5 779.6 L221.0 740.0 Z" fill="#fff" stroke="#231f20" stroke-width="2.03" />
<path d="M290.5 753.0 L290.5 779.6 L296.5 776.0 L297.0 767.0 L295.3 769.0 L298.5 757.0 L345.0 730.0 L352.5 743.0 L358.5 740.0 L358.5 714.0 Z" fill="#fff" stroke="#231f20" stroke-width="2.03" />
<path d="M339.5 734.0 L350.5 741.0" fill="none" stroke="#231f20" stroke-width="1.38" />
<path d="M342.5 729.0 L349.0 728.5 L351.0 739.5" fill="none" stroke="#231f20" stroke-width="1.38" />
<path d="M221.0 714.0 L289.5 674.6 L358.5 714.0 L290.5 753.0 Z" fill="#fff" stroke="#231f20" stroke-width="1.89" />
<path d="M276.0 689.5 L291.0 680.7 L346.5 713.0 L332.5 722.0 Z" fill="#fff" stroke="#231f20" stroke-width="1.89" />
<path d="M291.0 680.7 L291.8 687.0 L340.5 715.5" fill="none" stroke="#231f20" stroke-width="1.38" />
<path d="M276.0 689.5 L282.5 691.0 L291.8 687.0" fill="none" stroke="#231f20" stroke-width="1.38" />
<path d="M282.5 691.0 L334.5 720.5" fill="none" stroke="#231f20" stroke-width="1.59" />
<path d="M340.5 715.5 L346.5 713.0" fill="none" stroke="#231f20" stroke-width="1.45" />
<path d="M230.5 716.3 L247.0 706.5 L303.5 739.5 L288.0 749.0 Z" fill="#fff" stroke="#231f20" stroke-width="1.89" />
<path d="M247.0 706.5 L247.0 714.5 L297.5 743.0" fill="none" stroke="#231f20" stroke-width="1.38" />
<path d="M230.5 716.3 L238.0 720.0 L247.0 714.5" fill="none" stroke="#231f20" stroke-width="1.38" />
<path d="M238.0 720.0 L288.0 747.5" fill="none" stroke="#231f20" stroke-width="1.59" />
<path d="M297.5 743.0 L303.5 739.5" fill="none" stroke="#231f20" stroke-width="1.45" />
<path d="M505.6 566.3 L586.4 579.6 L571.4 589.4 L630.5 623.5 L606.4 637.3 L547.6 603.4 L529.4 612.5 Z" fill="#231f20" stroke="#231f20" stroke-width="0.43" />
<path d="M424.0 613.5 L503.7 627.3 L489.4 636.0 L548.5 671.0 L524.5 684.5 L465.6 651.0 L447.4 659.5 Z" fill="#231f20" stroke="#231f20" stroke-width="0.43" />
<g transform="translate(82,-47)">
<path d="M551 689 L568 698.3" fill="none" stroke="#939598" stroke-width="7.4" stroke-linecap="round"/>
<path d="M570.0 694.0 C570.7 694.1 570.7 693.0 574.0 694.5 C577.3 696.0 584.8 700.1 590.0 703.0 C595.2 705.9 600.5 709.1 605.0 712.0 C609.5 714.9 612.8 717.7 617.0 720.5 C621.2 723.3 627.8 727.6 630.0 729.0 L628.0 736.0 C625.3 734.6 616.7 729.8 612.0 727.5 C607.3 725.2 604.5 724.2 600.0 722.0 C595.5 719.8 590.3 716.7 585.0 714.0 C579.7 711.3 571.3 707.8 568.0 706.0 C564.7 704.2 565.5 703.5 565.0 703.0 C564 699 566 695 570 694 Z" fill="#d1d3d4" stroke="#939598" stroke-width="2.17" />
<path d="M542.5 707.5 L560 718" fill="none" stroke="#231f20" stroke-width="7" stroke-linecap="round"/>
<path d="M559.6 714.4 C560.3 714.1 560.6 711.9 564.0 712.6 C567.4 713.3 574.0 716.3 580.0 718.6 C586.0 720.9 594.0 724.2 600.0 726.4 C606.0 728.6 611.3 730.2 616.0 732.0 C620.7 733.8 626.0 736.2 628.0 737.0 L625.0 749.0 C623.3 748.3 619.2 746.4 615.0 745.0 C610.8 743.6 605.8 742.6 600.0 740.6 C594.2 738.6 586.7 735.4 580.0 733.0 C573.3 730.6 563.8 727.8 560.0 726.0 C556.2 724.2 557.5 722.7 557.0 722.0 C556 718.5 557.5 716 559.6 714.4 Z" fill="#fff" stroke="#231f20" stroke-width="2.03" />
<path d="M579 682 L597 692.3" fill="none" stroke="#231f20" stroke-width="7" stroke-linecap="round"/>
<path d="M598.6 688.0 C599.3 687.9 601.1 686.8 603.0 687.5 C604.9 688.2 607.2 689.4 610.0 692.0 C612.8 694.6 616.5 699.2 620.0 703.0 C623.5 706.8 627.5 711.4 631.0 715.0 C634.5 718.6 639.3 722.9 641.0 724.5 L630.0 731.0 C628.7 729.7 624.5 725.9 622.0 723.4 C619.5 720.9 617.7 718.9 615.0 716.0 C612.3 713.1 609.0 708.8 606.0 706.0 C603.0 703.2 599.0 701.0 597.0 699.4 C595.0 697.8 594.3 696.9 593.8 696.4 C593 692.5 595.5 689.5 598.6 688 Z" fill="#fff" stroke="#231f20" stroke-width="2.03" />
<path d="M640 722.4 L880 861 L880 897 L630 752.6 C627 751.5 625.3 750 624.5 747 C623.5 743 625 738 627.4 733 C629.5 728.5 634 722.5 640 722.4 Z" fill="#d1d3d4" stroke="none" stroke-width="0" />
<path d="M880 861 L640 722.4 C634 722.5 629.5 728.5 627.4 733 C625 738 623.5 743 624.5 747 C625.3 750 627 751.5 630 752.6 L880 897" fill="none" stroke="#231f20" stroke-width="2.17" />
</g>
<g transform="translate(0,0)">
<path d="M551 689 L568 698.3" fill="none" stroke="#939598" stroke-width="7.4" stroke-linecap="round"/>
<path d="M570.0 694.0 C570.7 694.1 570.7 693.0 574.0 694.5 C577.3 696.0 584.8 700.1 590.0 703.0 C595.2 705.9 600.5 709.1 605.0 712.0 C609.5 714.9 612.8 717.7 617.0 720.5 C621.2 723.3 627.8 727.6 630.0 729.0 L628.0 736.0 C625.3 734.6 616.7 729.8 612.0 727.5 C607.3 725.2 604.5 724.2 600.0 722.0 C595.5 719.8 590.3 716.7 585.0 714.0 C579.7 711.3 571.3 707.8 568.0 706.0 C564.7 704.2 565.5 703.5 565.0 703.0 C564 699 566 695 570 694 Z" fill="#d1d3d4" stroke="#939598" stroke-width="2.17" />
<path d="M542.5 707.5 L560 718" fill="none" stroke="#231f20" stroke-width="7" stroke-linecap="round"/>
<path d="M559.6 714.4 C560.3 714.1 560.6 711.9 564.0 712.6 C567.4 713.3 574.0 716.3 580.0 718.6 C586.0 720.9 594.0 724.2 600.0 726.4 C606.0 728.6 611.3 730.2 616.0 732.0 C620.7 733.8 626.0 736.2 628.0 737.0 L625.0 749.0 C623.3 748.3 619.2 746.4 615.0 745.0 C610.8 743.6 605.8 742.6 600.0 740.6 C594.2 738.6 586.7 735.4 580.0 733.0 C573.3 730.6 563.8 727.8 560.0 726.0 C556.2 724.2 557.5 722.7 557.0 722.0 C556 718.5 557.5 716 559.6 714.4 Z" fill="#fff" stroke="#231f20" stroke-width="2.03" />
<path d="M579 682 L597 692.3" fill="none" stroke="#231f20" stroke-width="7" stroke-linecap="round"/>
<path d="M598.6 688.0 C599.3 687.9 601.1 686.8 603.0 687.5 C604.9 688.2 607.2 689.4 610.0 692.0 C612.8 694.6 616.5 699.2 620.0 703.0 C623.5 706.8 627.5 711.4 631.0 715.0 C634.5 718.6 639.3 722.9 641.0 724.5 L630.0 731.0 C628.7 729.7 624.5 725.9 622.0 723.4 C619.5 720.9 617.7 718.9 615.0 716.0 C612.3 713.1 609.0 708.8 606.0 706.0 C603.0 703.2 599.0 701.0 597.0 699.4 C595.0 697.8 594.3 696.9 593.8 696.4 C593 692.5 595.5 689.5 598.6 688 Z" fill="#fff" stroke="#231f20" stroke-width="2.03" />
<path d="M640 722.4 L934.5 892 L872 892 L630 752.6 C627 751.5 625.3 750 624.5 747 C623.5 743 625 738 627.4 733 C629.5 728.5 634 722.5 640 722.4 Z" fill="#d1d3d4" stroke="none" stroke-width="0" />
<path d="M934.5 892 L640 722.4 C634 722.5 629.5 728.5 627.4 733 C625 738 623.5 743 624.5 747 C625.3 750 627 751.5 630 752.6 L872 892" fill="none" stroke="#231f20" stroke-width="2.17" />
</g>
<rect x="747" y="555.7" width="79" height="79" fill="#fff" stroke="#231f20" stroke-width="6" stroke-linejoin="miter"/>
<rect x="769.3" y="578.3" width="34.5" height="34.2" fill="#fff" stroke="#231f20" stroke-width="6.6" stroke-linejoin="miter"/>
<line x1="550.0" y1="155.0" x2="550.0" y2="329.0" stroke="#231f20" stroke-width="1.74"/>
<line x1="541.5" y1="191.3" x2="601.5" y2="191.3" stroke="#231f20" stroke-width="1.89"/>
<line x1="541.5" y1="232.8" x2="601.5" y2="232.8" stroke="#231f20" stroke-width="1.89"/>
<line x1="541.5" y1="329.5" x2="642.0" y2="329.5" stroke="#231f20" stroke-width="1.89"/>
<path d="M543.8 175.0 L556.4 175.0 L550.1 190.5 Z" fill="#231f20" stroke="#231f20" stroke-width="0.43" />
<path d="M543.8 249.0 L556.4 249.0 L550.1 233.5 Z" fill="#231f20" stroke="#231f20" stroke-width="0.43" />
<path d="M543.8 314.0 L556.4 314.0 L550.1 329.0 Z" fill="#231f20" stroke="#231f20" stroke-width="0.43" />
<rect x="678" y="187.5" width="10" height="37" fill="#939598"/>
<path d="M675.7 223.6 L691.6 223.6 L691.6 330 L675.7 330 Z" fill="#d1d3d4" stroke="#939598" stroke-width="1.74" />
<rect x="632.4" y="197" width="9.6" height="36" fill="#231f20"/>
<path d="M629 232.6 L645.5 232.6 C646 248 649 262 654 275 C658 285 662 292 666 300 L679.5 329 L663 329 L651 305 C646 295 643 288 640 280 C634 264 629.5 248 629 232.6 Z" fill="#fff" stroke="#231f20" stroke-width="1.89" />
<rect x="725" y="197" width="9.6" height="36" fill="#231f20"/>
<path d="M738 232.6 L721.5 232.6 C721 248 718 262 713 275 C709 285 705 292 701 300 L687.5 329 L704 329 L716 305 C721 295 724 288 727 280 C733 264 737.5 248 738 232.6 Z" fill="#fff" stroke="#231f20" stroke-width="1.89" />
<path d="M658 329.5 L709 329.5 L709 410 C709 415 706 417.5 700 417.5 C694 417.5 689 414 684.5 408 C679 413 672 417.5 665 417.5 C660 417.5 658 415 658 411 Z" fill="#d1d3d4" stroke="#231f20" stroke-width="1.89" />
<path d="M684.5 408 C689 402 695 398 701 397.5 C706 397.5 708 400 709 404" fill="none" stroke="#231f20" stroke-width="1.89" />
<path d="M677.5 382 L619 382 L619 427" fill="none" stroke="#231f20" stroke-width="1.74" />
<text font-size="35.5"><tspan x="417.5" y="225.0" textLength="53" lengthAdjust="spacingAndGlyphs">5-7</tspan> <tspan x="474" y="225.0" textLength="60" lengthAdjust="spacingAndGlyphs">mm</tspan></text>
<text font-size="35.5"><tspan x="412" y="295" font-size="33" textLength="19" lengthAdjust="spacingAndGlyphs" stroke="#231f20" stroke-width="0.6">~</tspan><tspan x="431" y="290.6" textLength="40" lengthAdjust="spacingAndGlyphs">20</tspan> <tspan x="474" y="290.6" textLength="60" lengthAdjust="spacingAndGlyphs">mm</tspan></text>
<text font-size="36"><tspan x="498.5" y="463.1" textLength="279" lengthAdjust="spacingAndGlyphs">2x0.75...2x1.5mm</tspan><tspan x="779" y="448.5" font-size="22.5" textLength="13" lengthAdjust="spacingAndGlyphs" stroke="#231f20" stroke-width="0.5">2</tspan></text>
<text x="417.5" y="774.1" font-size="37" textLength="158.5" lengthAdjust="spacingAndGlyphs">220-240V</text>
<rect x="0.5" y="0.5" width="999" height="928" fill="none" stroke="#2b2829" stroke-width="1.2"/>
</svg>
</body></html>
